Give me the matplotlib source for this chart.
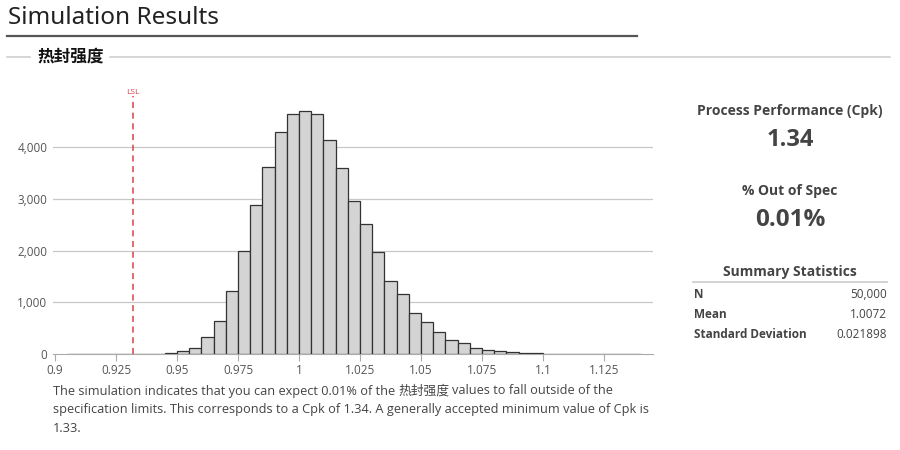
import numpy as np
import matplotlib
matplotlib.use('Agg')
import matplotlib.pyplot as plt
from matplotlib.ticker import FuncFormatter

plt.rcParams['font.family'] = ['Open Sans', 'Noto Sans CJK SC', 'DejaVu Sans']

# datos del histograma (ancho de clase 0.005)
bin_start = 0.905
bin_width = 0.005
counts = [2, 2, 0, 2, 0, 1, 1, 3, 12, 50,
          125, 320, 630, 1220, 1995, 2890, 3610, 4295, 4640, 4700,
          4640, 4135, 3600, 2960, 2505, 1980, 1410, 1165, 790, 610,
          425, 270, 218, 115, 70, 50, 30, 20, 10, 6,
          5, 4, 3, 2, 2, 1, 1]
bin_lefts = bin_start + bin_width * np.arange(len(counts))

lsl = 0.932
x_ticks = [0.9, 0.925, 0.95, 0.975, 1.0, 1.025, 1.05, 1.075, 1.1, 1.125]
x_labels = ['0.9', '0.925', '0.95', '0.975', '1', '1.025', '1.05', '1.075', '1.1', '1.125']
y_ticks = [0, 1000, 2000, 3000, 4000]

var_name = '热封强度'
cpk = '1.34'
out_of_spec = '0.01%'
stats_labels = ['N', 'Mean', 'Standard Deviation']
stats_values = ['50,000', '1.0072', '0.021898']

fig = plt.figure(figsize=(9, 4.5), dpi=100)

# titulo y encabezados
fig.text(8 / 900, 1 - 18 / 450, 'Simulation Results', fontsize=17.5, color='#222222', va='center', ha='left',
         family=['Noto Sans', 'DejaVu Sans'])
fig.add_artist(plt.Line2D([7 / 900, 637 / 900], [1 - 36 / 450] * 2, color='#555555', lw=1.6))
fig.text(37 / 900, 1 - 57 / 450, var_name, fontsize=12, fontweight='heavy', color='#111111',
         va='center', ha='left', family=['Noto Sans CJK SC', 'DejaVu Sans'])
fig.add_artist(plt.Line2D([7 / 900, 30 / 900], [1 - 57 / 450] * 2, color='#d0d0d0', lw=1.2))
fig.add_artist(plt.Line2D([110 / 900, 890 / 900], [1 - 57 / 450] * 2, color='#d0d0d0', lw=1.2))

# histograma
ax = fig.add_axes([53 / 900, 1 - 354 / 450, 600 / 900, (354 - 95.5) / 450])
ax.bar(bin_lefts, counts, width=bin_width, align='edge', color='#d4d4d4', edgecolor='#333333', lw=0.9, zorder=3)
ax.set_xlim(0.8992, 1.1451)
ax.set_ylim(0, 5000)
ax.set_xticks(x_ticks)
ax.set_xticklabels(x_labels)
ax.set_yticks(y_ticks)
ax.yaxis.set_major_formatter(FuncFormatter(lambda v, p: f'{int(v):,}'))
for y in y_ticks[1:]:
    ax.axhline(y, color='#c8c8c8', lw=0.9, zorder=1)
for s in ['top', 'right', 'left']:
    ax.spines[s].set_visible(False)
ax.spines['bottom'].set_color('#aaaaaa')
ax.tick_params(axis='x', colors='#aaaaaa', labelcolor='#555555', labelsize=8.5, length=5, pad=2)
ax.tick_params(axis='y', length=0, labelcolor='#555555', labelsize=8.5, pad=4)

ax.axvline(lsl, color='#d9404f', lw=1.1, ls=(0, (4, 3)), zorder=4)
ax.text(lsl, 1.0, 'LSL', transform=ax.get_xaxis_transform(), color='#d9404f',
        fontsize=6, ha='center', va='bottom')

# panel derecho
cx = 790 / 900
fig.text(cx, 1 - 111 / 450, 'Process Performance (Cpk)', fontsize=10, fontweight='bold', color='#444444', ha='center', va='center')
fig.text(cx, 1 - 140 / 450, cpk, fontsize=17, fontweight='bold', color='#444444', ha='center', va='center')
fig.text(cx, 1 - 191 / 450, '% Out of Spec', fontsize=10, fontweight='bold', color='#444444', ha='center', va='center')
fig.text(cx, 1 - 220 / 450, out_of_spec, fontsize=17.5, fontweight='bold', color='#444444', ha='center', va='center')
fig.text(cx, 1 - 272 / 450, 'Summary Statistics', fontsize=10, fontweight='bold', color='#444444', ha='center', va='center')
fig.add_artist(plt.Line2D([693 / 900, 887 / 900], [1 - 282 / 450] * 2, color='#cccccc', lw=1.2))
for i, (lab, val) in enumerate(zip(stats_labels, stats_values)):
    yy = 1 - (294 + i * 20) / 450
    fig.text(694 / 900, yy, lab, fontsize=8.5, fontweight='bold', color='#444444', ha='left', va='center')
    fig.text(887 / 900, yy, val, fontsize=8.5, color='#444444', ha='right', va='center')

# texto inferior
fs = 9.2
tc = '#444444'
renderer = fig.canvas.get_renderer()
x0 = 53 / 900
y1 = 1 - 391 / 450
t1 = fig.text(x0, y1, 'The simulation indicates that you can expect 0.01% of the ', fontsize=fs, color=tc, va='center')
bb = t1.get_window_extent(renderer)
t2 = fig.text(bb.x1 / fig.bbox.width, y1, var_name, fontsize=fs, color=tc, va='center', style='italic',
              family=['Noto Sans CJK SC', 'DejaVu Sans'])
bb2 = t2.get_window_extent(renderer)
fig.text(bb2.x1 / fig.bbox.width + 3 / 900, y1, 'values to fall outside of the', fontsize=fs, color=tc, va='center')
fig.text(x0, 1 - 410 / 450, 'specification limits. This corresponds to a Cpk of 1.34. A generally accepted minimum value of Cpk is',
         fontsize=fs, color=tc, va='center')
fig.text(x0, 1 - 428 / 450, '1.33.', fontsize=fs, color=tc, va='center')

fig.savefig('out.png', dpi=100)
